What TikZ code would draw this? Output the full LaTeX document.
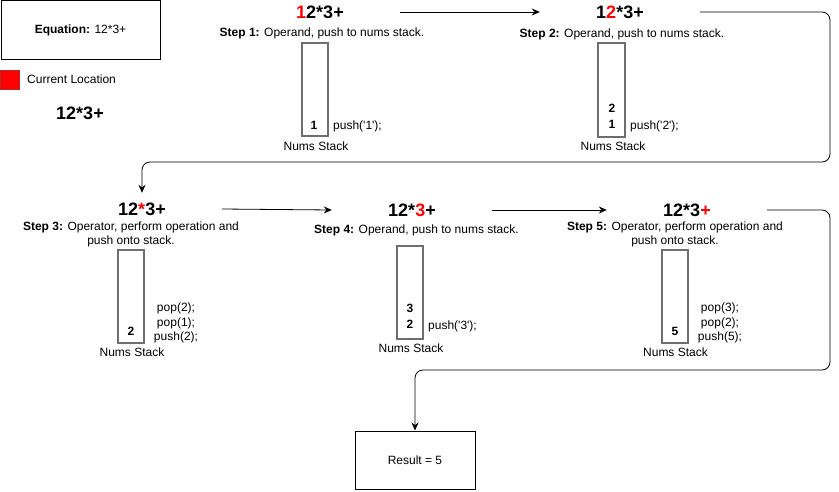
\documentclass[tikz,border=0pt]{standalone}
\usepackage{fontspec}
\setmainfont{Liberation Sans}[Ligatures=TeXOff]
\usetikzlibrary{arrows.meta}
\definecolor{stackgray}{RGB}{110,110,110}
\definecolor{locred}{RGB}{184,40,40}
\newcommand{\px}[1]{\fontsize{#1}{#1}\selectfont}
\begin{document}
\begin{tikzpicture}[x=1pt, y=-1pt,
    title/.style = {font=\px{18}\bfseries, minimum width=160, minimum height=32, inner sep=0},
    steptext/.style = {font=\px{12}, align=center, inner sep=0},
    stackbox/.style = {draw=stackgray, line width=1.5pt, minimum width=26, minimum height=93, inner sep=0},
    num/.style = {font=\px{12}\bfseries, align=center, inner sep=0},
    code/.style = {font=\px{12}, align=center, inner sep=0},
    conn/.style = {line width=0.8pt, rounded corners=8, -{Stealth[length=8pt, width=7pt]}}
    ]
    \useasboundingbox (0,0) rectangle (839,491);

    \node[draw, line width=1pt, minimum width=159, minimum height=59, font=\px{12}] (eq) at (80.5,30) {\textbf{Equation:} 12*3+};
    \node[draw=locred, fill=red, minimum size=19, inner sep=0] (loc) at (10,80) {};
    \node[font=\px{12}, anchor=west, inner sep=0] (loclabel) at (27,79) {Current Location};
    \node[font=\px{18}\bfseries, inner sep=0] (expr) at (80,113) {12*3+};

    \node[title] (t1) at (320,12) {\textcolor{red}{1}2*3+};
    \node[steptext] (d1) at (322,33) {\textbf{Step 1:} Operand, push to nums stack.};
    \node[stackbox] (s1) at (315,89.5) {};
    \node[num] (n1) at (314,125) {1};
    \node[code, anchor=west] (c1) at (333,126) {push('1');};
    \node[code] (l1) at (316,146) {Nums Stack};

    \node[title] (t2) at (620,12) {1\textcolor{red}{2}*3+};
    \node[steptext] (d2) at (622,34) {\textbf{Step 2:} Operand, push to nums stack.};
    \node[stackbox, minimum width=27, minimum height=94] (s2) at (611.5,90) {};
    \node[num] (n2) at (612,116) {2\\[4pt]1};
    \node[code, anchor=west] (c2) at (630,126) {push('2');};
    \node[code] (l2) at (613,146) {Nums Stack};

    \node[title] (t3) at (142,209) {12\textcolor{red}{*}3+};
    \node[steptext] (d3) at (131,234.5) {\textbf{Step 3:} Operator, perform operation and\\[2.5pt]push onto stack.};
    \node[stackbox] (s3) at (131,296.5) {};
    \node[num] (n3) at (131,331) {2};
    \node[code] (c3) at (176,323) {pop(2);\\[2.5pt]pop(1);\\[2.5pt]push(2);};
    \node[code] (l3) at (132,352) {Nums Stack};

    \node[title] (t4) at (412,210) {12*\textcolor{red}{3}+};
    \node[steptext] (d4) at (416.5,230) {\textbf{Step 4:} Operand, push to nums stack.};
    \node[stackbox] (s4) at (410,292.5) {};
    \node[num] (n4) at (410,316.5) {3\\[4pt]2};
    \node[code, anchor=west] (c4) at (428,326) {push('3');};
    \node[code] (l4) at (411,348) {Nums Stack};

    \node[title] (t5) at (687,210) {12*3\textcolor{red}{+}};
    \node[steptext] (d5) at (675,234.5) {\textbf{Step 5:} Operator, perform operation and\\[2.5pt]push onto stack.};
    \node[stackbox] (s5) at (675,296.5) {};
    \node[num] (n5) at (675,331) {5};
    \node[code] (c5) at (720,323) {pop(3);\\[2.5pt]pop(2);\\[2.5pt]push(5);};
    \node[code] (l5) at (675.5,352) {Nums Stack};

    \node[draw, line width=1pt, minimum width=120, minimum height=58, font=\px{12}] (res) at (415,460) {Result = 5};

    \coordinate (bend2) at (830,162);
    \coordinate (bend5) at (830,370);

    \draw[conn] (t1.east) -- (t2.west);
    \draw[conn] (t2.east) -| (bend2) -| (t3.north);
    \draw[conn] (t3.east) -- (t4.west);
    \draw[conn] (t4.east) -- (t5.west);
    \draw[conn] (t5.east) -| (bend5) -| (res.north);
\end{tikzpicture}
\end{document}
